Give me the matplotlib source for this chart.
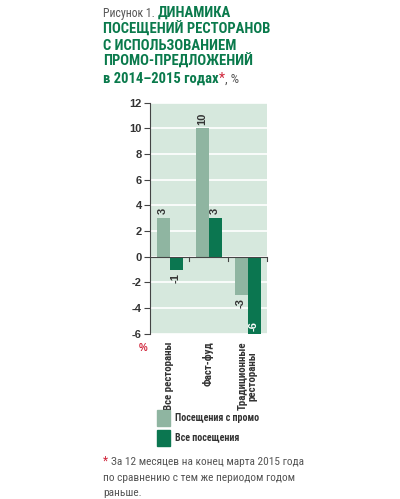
import numpy as np
import matplotlib.pyplot as plt

plt.rcParams['font.family'] = ['Roboto Condensed', 'Liberation Sans Narrow',
                               'Roboto', 'DejaVu Sans']

categories = ['Все рестораны', 'Фаст-фуд', 'Традиционные\nрестораны']
promo = [3, 10, -3]
total = [-1, 3, -6]
series_names = ['Посещения с промо', 'Все посещения']
yticks = [-6, -4, -2, 0, 2, 4, 6, 8, 10, 12]

light = '#8fb5a1'
dark = '#0b7650'
bg = '#d6e8dd'
green = '#0a7a4c'
gray = '#555555'
red = '#d0243a'
num_font = ['Liberation Sans', 'DejaVu Sans']

fig = plt.figure(figsize=(4, 4.99), dpi=100)
ax = fig.add_axes([0.375, 0.331, 0.2925, 0.463])
ax.set_facecolor(bg)

x = np.arange(len(categories)) + 0.5
w = 1 / 3
ax.bar(x - w / 2, promo, w, color=light, zorder=3)
ax.bar(x + w / 2, total, w, color=dark, zorder=3)

def label(xi, v, inside=False):
    kw = dict(rotation=90, ha='center', fontsize=8, fontweight='bold',
              family=num_font, color='#333333')
    if inside:
        kw['color'] = 'white'
        ax.text(xi, v + 0.25, str(v), va='bottom', **kw)
    elif v > 0:
        ax.text(xi, v + 0.3, str(v), va='bottom', **kw)
    else:
        ax.text(xi, v - 0.25, str(v), va='top', **kw)

for xi, v in zip(x - w / 2, promo):
    label(xi, v)
for xi, v in zip(x + w / 2, total):
    label(xi, v, inside=(v <= -5))

ax.set_xlim(0, 3)
ax.set_ylim(-6, 12)
ax.set_yticks(yticks)
ax.set_yticklabels([str(t) for t in yticks], fontsize=8, fontweight='bold',
                   color='#333333', family=num_font)
ax.yaxis.grid(True, color='white', linewidth=1.2, zorder=1)
ax.set_axisbelow(True)
for s in ['top', 'right', 'bottom']:
    ax.spines[s].set_visible(False)
ax.spines['left'].set_color('#444444')
ax.spines['left'].set_linewidth(0.8)
ax.tick_params(axis='y', length=4, width=0.8, color='#444444', pad=2)
ax.set_xticks([])
ax.axhline(0, color='#444444', linewidth=0.8, zorder=4)
for t in [1, 2, 3]:
    ax.plot([t, t], [0, -0.35], color='#444444', linewidth=0.8, zorder=4,
            clip_on=False)

ax.text(-0.18, -6.75, '%', color=red, fontsize=7, fontweight='bold',
        ha='center', va='top', family=num_font)

# category labels
for xi, c in zip(x, categories):
    ax.text(xi, -6.6, c, rotation=90, ha='center', va='top', fontsize=7.8,
            fontweight='bold', color='#333333', linespacing=1.0)

# legend
for i, (name, col) in enumerate(zip(series_names, [light, dark])):
    y0 = 0.146 - i * 0.039
    fig.patches.append(plt.Rectangle((0.393, y0), 0.032, 0.032,
                                     transform=fig.transFigure, color=col))
    fig.text(0.438, y0 + 0.016, name, fontsize=7.2, fontweight='bold',
             color='#333333', va='center')

renderer = fig.canvas.get_renderer()

def after(t, s, **kw):
    bb = t.get_window_extent(renderer).transformed(fig.transFigure.inverted())
    return fig.text(bb.x1, t.get_position()[1], s, va='baseline', **kw)

# title
lh = 0.0328
top = 0.966
t = fig.text(0.258, top, 'Рисунок 1. ', fontsize=8.5, color=gray,
             va='baseline')
after(t, 'ДИНАМИКА', fontsize=10.5, color=green, fontweight='bold')
for i, line in enumerate(['ПОСЕЩЕНИЙ РЕСТОРАНОВ', 'С ИСПОЛЬЗОВАНИЕМ',
                          'ПРОМО-ПРЕДЛОЖЕНИЙ']):
    fig.text(0.258, top - (i + 1) * lh, line, fontsize=10.5, color=green,
             fontweight='bold', va='baseline')
t = fig.text(0.258, top - 4 * lh, 'в 2014–2015 годах', fontsize=10.5,
             color=green, fontweight='bold', va='baseline')
t = after(t, '*', fontsize=10, color=red)
after(t, ', %', fontsize=9.5, color=gray)

# footnote
t = fig.text(0.258, 0.068, '* ', fontsize=8.5, color=red, va='baseline')
after(t, 'За 12 месяцев на конец марта 2015 года', fontsize=8.2, color=gray)
fig.text(0.258, 0.037, 'по сравнению с тем же периодом годом',
         fontsize=8.2, color=gray, va='baseline')
fig.text(0.258, 0.006, 'раньше.', fontsize=8.2, color=gray, va='baseline')

fig.savefig('out.png', dpi=100)
